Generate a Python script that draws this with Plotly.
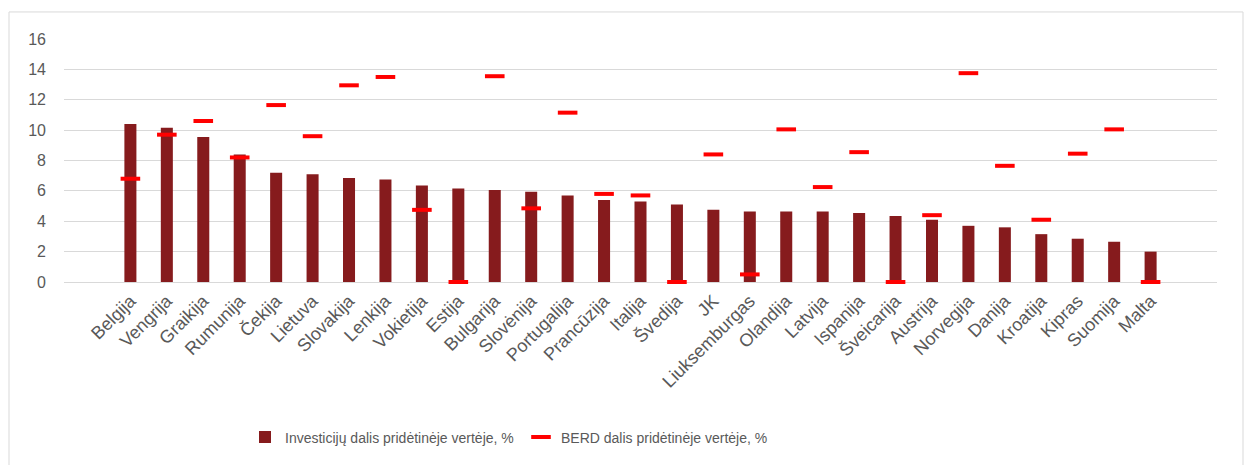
import plotly.graph_objects as go

# Šalys (kategorijos) ir rodikliai, %
salys = ["Belgija", "Vengrija", "Graikija", "Rumunija", "Čekija", "Lietuva",
         "Slovakija", "Lenkija", "Vokietija", "Estija", "Bulgarija", "Slovėnija",
         "Portugalija", "Prancūzija", "Italija", "Švedija", "JK", "Liuksemburgas",
         "Olandija", "Latvija", "Ispanija", "Šveicarija", "Austrija", "Norvegija",
         "Danija", "Kroatija", "Kipras", "Suomija", "Malta"]

investicijos = [10.4, 10.15, 9.55, 8.4, 7.2, 7.1, 6.85, 6.75, 6.35, 6.15, 6.05,
                5.95, 5.7, 5.4, 5.3, 5.1, 4.75, 4.65, 4.65, 4.65, 4.55, 4.35,
                4.1, 3.7, 3.6, 3.15, 2.85, 2.65, 2.0]

berd = [6.8, 9.7, 10.6, 8.2, 11.65, 9.6, 12.95, 13.5, 4.75, 0.0, 13.55, 4.85,
        11.15, 5.8, 5.7, 0.0, 8.4, 0.5, 10.05, 6.25, 8.55, 0.0, 4.4, 13.75,
        7.65, 4.1, 8.45, 10.05, 0.0]

y_ticks = [0, 2, 4, 6, 8, 10, 12, 14, 16]

TEXT = "#595959"
FONT = "Liberation Sans, Arial, sans-serif"

fig = go.Figure()

fig.add_trace(go.Bar(
    x=salys, y=investicijos,
    name="Investicijų dalis pridėtinėje vertėje, %",
    marker=dict(color="#861b1d", line=dict(width=0)),
    width=0.33,
))

fig.add_trace(go.Scatter(
    x=salys, y=berd, mode="markers",
    name="BERD dalis pridėtinėje vertėje, %",
    marker=dict(symbol="line-ew", size=14, color="#ff0000",
                line=dict(color="#ff0000", width=4)),
    cliponaxis=False,
))

# Rėmelis aplink visą diagramą
plot_l, plot_r, plot_t, plot_b = 64, 1217, 39, 281.7
def px_x(p):
    return (p - plot_l) / (plot_r - plot_l)
def px_y(p):
    return (plot_b - p) / (plot_b - plot_t)

fig.add_shape(type="rect", xref="paper", yref="paper",
              x0=px_x(9), x1=px_x(1243), y0=px_y(470), y1=px_y(12),
              line=dict(color="#d9d9d9", width=1), layer="below")

fig.update_layout(
    width=1248, height=465,
    margin=dict(l=64, r=31, t=39, b=183.3),
    paper_bgcolor="white", plot_bgcolor="white",
    font=dict(family=FONT, size=14, color=TEXT),
    barmode="overlay",
    showlegend=True,
    legend=dict(orientation="h", x=px_x(245), xanchor="left", y=px_y(437),
                yanchor="middle", font=dict(size=14, color=TEXT),
                itemwidth=30, entrywidth=231, entrywidthmode="pixels"),
    xaxis=dict(tickangle=-45, showgrid=False, showline=False, ticks="",
               ticklabelstandoff=4,
               tickfont=dict(size=18, color=TEXT)),
    yaxis=dict(range=[0, 16], tickvals=y_ticks, showgrid=True,
               gridcolor="#d9d9d9", gridwidth=1, zeroline=True,
               zerolinecolor="#d9d9d9", zerolinewidth=1, showline=False,
               ticks="", ticklabelstandoff=17,
               tickfont=dict(size=16, color=TEXT)),
)

fig.write_html("out.html")
